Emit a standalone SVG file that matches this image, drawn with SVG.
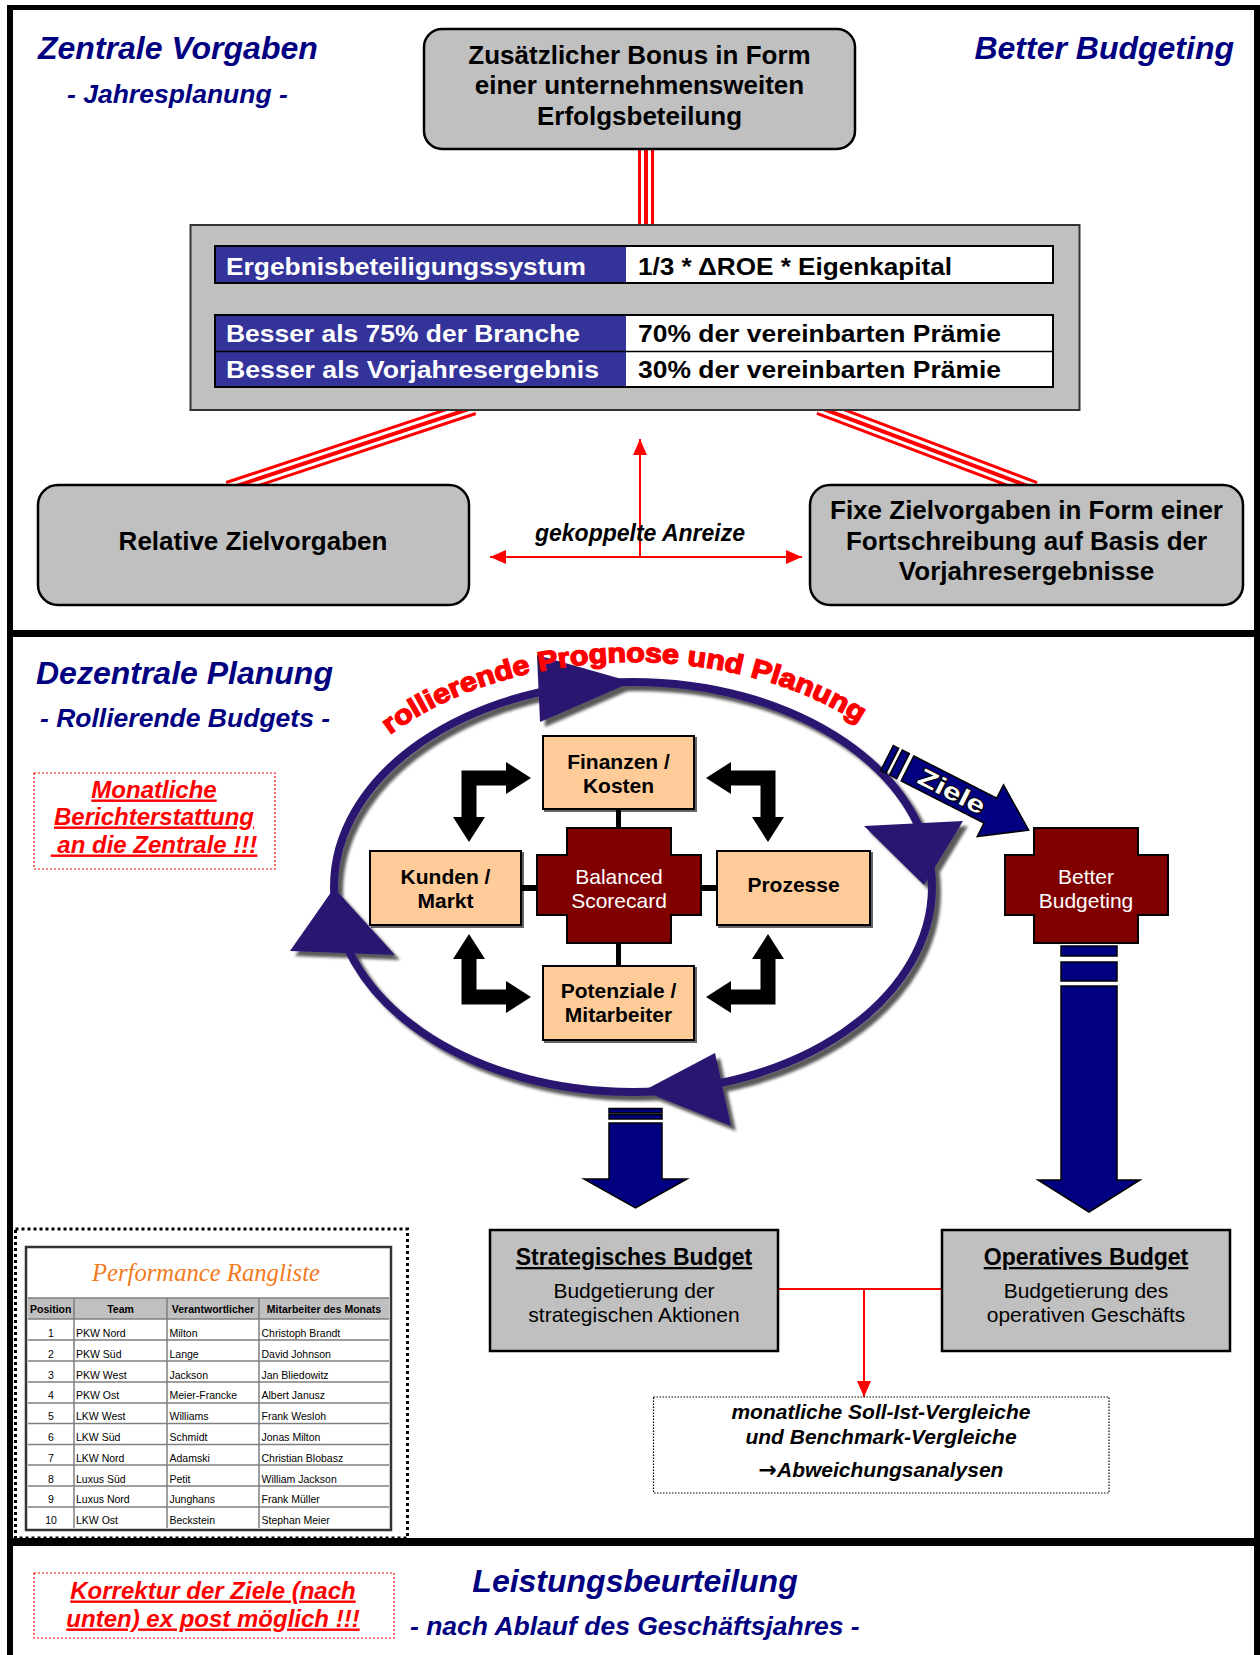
<svg xmlns="http://www.w3.org/2000/svg" width="1260" height="1655" viewBox="0 0 1260 1655">
<defs>
<style>
text{font-family:"Liberation Sans",Arial,Helvetica,sans-serif}
.title{font-size:32px;font-weight:bold;font-style:italic;fill:#000080}
.sub{font-size:26.5px;font-weight:bold;font-style:italic;fill:#000080}
.box{fill:#c0c0c0;stroke:#000;stroke-width:2.5}
.bt{font-size:26px;font-weight:bold;fill:#000;text-anchor:middle}
.tbw{font-size:24px;font-weight:bold;fill:#fff}
.tbk{font-size:24px;font-weight:bold;fill:#000}
.peach{fill:#ffcc99;stroke:#000;stroke-width:2}
.pt{font-size:21px;font-weight:bold;text-anchor:middle;fill:#000}
.cross{fill:#800000;stroke:#000;stroke-width:2}
.ct{font-size:21px;fill:#fff;text-anchor:middle}
.navy{fill:#000080;stroke:#000;stroke-width:1.5}
.note{font-size:24px;font-weight:bold;font-style:italic;fill:#ff0000;text-anchor:middle;text-decoration:underline}
.redbox{fill:none;stroke:#ff0000;stroke-width:1.2;stroke-dasharray:2 2}
.r3a{stroke:#ff0000;stroke-width:16;fill:none}
.r3b{stroke:#fff;stroke-width:10;fill:none}
.r3c{stroke:#ff0000;stroke-width:4;fill:none}
.redl{stroke:#ff0000;stroke-width:2;fill:none}
.ringc{fill:#2b176f}
.bk{fill:#000}
.th{font-size:10.5px;font-weight:bold;fill:#000}
.td{font-size:10.5px;fill:#000}
.grid{stroke:#7f7f7f;stroke-width:1.5}
.bgt{font-size:23px;font-weight:bold;fill:#000;text-anchor:middle;text-decoration:underline}
.bgs{font-size:21px;fill:#000;text-anchor:middle}
.it{font-size:21px;font-weight:bold;font-style:italic;fill:#000;text-anchor:middle}
.script{font-family:"Liberation Serif","DejaVu Serif",serif;font-style:italic;font-size:26px;fill:#f47a20;text-anchor:middle}
.arr{font-family:"DejaVu Sans",sans-serif;font-style:normal;font-weight:bold;font-size:22px}
</style>
<marker id="ah" markerUnits="userSpaceOnUse" markerWidth="16" markerHeight="14" refX="16" refY="7" orient="auto-start-reverse"><path d="M0,0 L16,7 L0,14 Z" fill="#ff0000"/></marker>
<filter id="sh" x="-10%" y="-10%" width="130%" height="130%"><feDropShadow dx="5" dy="5" stdDeviation="1.5" flood-color="#000" flood-opacity="0.65"/></filter>
<filter id="bs" x="-5%" y="-5%" width="115%" height="115%"><feDropShadow dx="2" dy="2" stdDeviation="0.6" flood-color="#000" flood-opacity="0.6"/></filter>
<path id="arc" d="M 390 734.6 A 332 228 0 0 1 870 730.3"/>
</defs>

<rect x="0" y="0" width="1260" height="1655" fill="#fff"/>

<!-- panel frames -->
<g id="frames" fill="#000">
<rect x="7" y="5" width="1253" height="5"/>
<rect x="7" y="5" width="6" height="1650"/>
<rect x="1254" y="5" width="6" height="1650"/>
<rect x="7" y="630" width="1253" height="7"/>
<rect x="7" y="1538" width="1253" height="8"/>
</g>

<!-- section titles -->
<g id="titles">
<text class="title" x="38" y="59">Zentrale Vorgaben</text>
<text class="sub" x="67" y="103">- Jahresplanung -</text>
<text class="title" x="1234" y="59" text-anchor="end">Better Budgeting</text>
<text class="title" x="36" y="684">Dezentrale Planung</text>
<text class="sub" x="40" y="727">- Rollierende Budgets -</text>
<text class="title" x="635" y="1592" text-anchor="middle">Leistungsbeurteilung</text>
<text class="sub" x="410" y="1635">- nach Ablauf des Geschäftsjahres -</text>
</g>

<!-- connectors -->
<g id="connectors">
<line class="r3a" x1="646" y1="145" x2="646" y2="229"/>
<line class="r3b" x1="646" y1="145" x2="646" y2="229"/>
<line class="r3c" x1="646" y1="145" x2="646" y2="229"/>
<line class="r3a" x1="473.8" y1="407.3" x2="228.2" y2="488.7"/>
<line class="r3b" x1="473.8" y1="407.3" x2="228.2" y2="488.7"/>
<line class="r3c" x1="473.8" y1="407.3" x2="228.2" y2="488.7"/>
<line class="r3a" x1="819.2" y1="407.3" x2="1034.8" y2="488.7"/>
<line class="r3b" x1="819.2" y1="407.3" x2="1034.8" y2="488.7"/>
<line class="r3c" x1="819.2" y1="407.3" x2="1034.8" y2="488.7"/>
<line class="redl" x1="490" y1="557" x2="802" y2="557" marker-start="url(#ah)" marker-end="url(#ah)"/>
<line class="redl" x1="640" y1="557" x2="640" y2="439" marker-end="url(#ah)"/>
<line class="redl" x1="778" y1="1289" x2="942" y2="1289"/>
<line class="redl" x1="864" y1="1289" x2="864" y2="1397" marker-end="url(#ah)"/>
<!-- BSC connectors -->
<line x1="618.5" y1="809" x2="618.5" y2="828" stroke="#000" stroke-width="5"/>
<line x1="618.5" y1="943" x2="618.5" y2="966" stroke="#000" stroke-width="5"/>
<line x1="521" y1="888" x2="537" y2="888" stroke="#000" stroke-width="6"/>
<line x1="701" y1="888" x2="717" y2="888" stroke="#000" stroke-width="6"/>
<!-- black L double arrows -->
<path class="bk" d="M461.5,770.5 H506 V762 L531,778 L506,794 V785.5 H476.5 V817 H485 L469,842 L453,817 H461.5 Z"/>
<path class="bk" d="M775.5,770.5 H731 V762 L706,778 L731,794 V785.5 H760.5 V817 H752 L768,842 L784,817 H775.5 Z"/>
<path class="bk" d="M461.5,1004.5 H506 V1013 L531,997 L506,981 V989.5 H476.5 V959 H485 L469,934 L453,959 H461.5 Z"/>
<path class="bk" d="M775.5,1004.5 H731 V1013 L706,997 L731,981 V989.5 H760.5 V959 H752 L768,934 L784,959 H775.5 Z"/>
</g>

<!-- Top box -->
<g id="bonus">
<rect class="box" x="424" y="29" width="431" height="120" rx="18"/>
<text class="bt" x="639.5" y="64">Zusätzlicher Bonus in Form</text>
<text class="bt" x="639.5" y="94">einer unternehmensweiten</text>
<text class="bt" x="639.5" y="125">Erfolgsbeteilung</text>
</g>

<!-- Table box -->
<g id="ergebnis">
<rect x="190.5" y="225" width="889" height="185" fill="#c0c0c0" stroke="#333" stroke-width="2"/>
<rect x="215" y="246" width="411" height="37" fill="#333399"/>
<rect x="626" y="246" width="427" height="37" fill="#fff"/>
<rect x="215" y="246" width="838" height="37" fill="none" stroke="#000" stroke-width="2"/>
<rect x="215" y="315" width="411" height="72" fill="#333399"/>
<rect x="626" y="315" width="427" height="72" fill="#fff"/>
<rect x="215" y="315" width="838" height="72" fill="none" stroke="#000" stroke-width="2"/>
<line x1="215" y1="351.5" x2="1053" y2="351.5" stroke="#000" stroke-width="1.5"/>
<text class="tbw" x="226" y="275" textLength="360" lengthAdjust="spacingAndGlyphs">Ergebnisbeteiligungssystum</text>
<text class="tbk" x="638" y="275" textLength="314" lengthAdjust="spacingAndGlyphs">1/3 * ΔROE * Eigenkapital</text>
<text class="tbw" x="226" y="342" textLength="354" lengthAdjust="spacingAndGlyphs">Besser als 75% der Branche</text>
<text class="tbk" x="638" y="342" textLength="363" lengthAdjust="spacingAndGlyphs">70% der vereinbarten Prämie</text>
<text class="tbw" x="226" y="378" textLength="373" lengthAdjust="spacingAndGlyphs">Besser als Vorjahresergebnis</text>
<text class="tbk" x="638" y="378" textLength="363" lengthAdjust="spacingAndGlyphs">30% der vereinbarten Prämie</text>
</g>

<g id="relative">
<rect class="box" x="38" y="485" width="431" height="120" rx="20"/>
<text class="bt" x="253" y="550">Relative Zielvorgaben</text>
</g>

<g id="fixe">
<rect class="box" x="810" y="485" width="433" height="120" rx="20"/>
<text class="bt" x="1026.5" y="519">Fixe Zielvorgaben in Form einer</text>
<text class="bt" x="1026.5" y="550">Fortschreibung auf Basis der</text>
<text class="bt" x="1026.5" y="580">Vorjahresergebnisse</text>
</g>

<g id="anreize">
<text x="640" y="541" font-size="23" font-weight="bold" font-style="italic" text-anchor="middle" fill="#000">gekoppelte Anreize</text>
</g>

<!-- Section 2 -->
<g id="monatliche">
<rect class="redbox" x="34" y="773" width="241" height="96"/>
<text class="note" x="154" y="797.5">Monatliche</text>
<text class="note" x="154" y="824.5">Berichterstattung</text>
<text class="note" x="154" y="852.5" xml:space="preserve"> an die Zentrale !!!</text>
</g>

<g id="ring" filter="url(#sh)">
<ellipse cx="633" cy="887" rx="299" ry="205" fill="none" stroke="#2b176f" stroke-width="8"/>
<polygon class="ringc" points="537,655 540,722 632,682"/>
<polygon class="ringc" points="864,826 963,821 924,885"/>
<polygon class="ringc" points="715,1053 731,1126 643,1091"/>
<polygon class="ringc" points="334,888 290,951 395,955"/>
</g>

<g id="rollierende">
<text font-size="27" font-weight="bold" fill="#ff0000" stroke="#ff0000" stroke-width="1.4"><textPath href="#arc" textLength="495" lengthAdjust="spacingAndGlyphs">rollierende Prognose und Planung</textPath></text>
</g>

<g id="finanzen">
<rect class="peach" x="543" y="736" width="151" height="73" filter="url(#bs)"/>
<text class="pt" x="618.5" y="768.5">Finanzen /</text>
<text class="pt" x="618.5" y="792.5">Kosten</text>
</g>
<g id="kunden">
<rect class="peach" x="370" y="851" width="151" height="74" filter="url(#bs)"/>
<text class="pt" x="445.5" y="883.5">Kunden /</text>
<text class="pt" x="445.5" y="907.5">Markt</text>
</g>
<g id="prozesse">
<rect class="peach" x="717" y="851" width="153" height="74" filter="url(#bs)"/>
<text class="pt" x="793.5" y="891.5">Prozesse</text>
</g>
<g id="potenziale">
<rect class="peach" x="543" y="966" width="151" height="74" filter="url(#bs)"/>
<text class="pt" x="618.5" y="997.5">Potenziale /</text>
<text class="pt" x="618.5" y="1022">Mitarbeiter</text>
</g>
<g id="bsc">
<path class="cross" d="M567,828 H671 V855 H701 V915 H671 V943 H567 V915 H537 V855 H567 Z"/>
<text class="ct" x="619" y="883.5">Balanced</text>
<text class="ct" x="619" y="907.5">Scorecard</text>
</g>

<g id="ziele" transform="translate(887,758) rotate(27)">
<rect class="navy" x="0" y="-14" width="6" height="28"/>
<rect class="navy" x="10" y="-14" width="8" height="28"/>
<path class="navy" d="M23,-14 H116 V-29 L159,0 L116,29 V14 H23 Z"/>
<text x="73" y="8.5" font-size="24" font-weight="bold" text-anchor="middle" fill="#fff" stroke="#000" stroke-width="2" paint-order="stroke" textLength="72" lengthAdjust="spacingAndGlyphs">Ziele</text>
</g>

<g id="betterbudgeting">
<path class="cross" d="M1034,828 H1138 V855 H1168 V915 H1138 V943 H1034 V915 H1005 V855 H1034 Z"/>
<text class="ct" x="1086" y="883.5">Better</text>
<text class="ct" x="1086" y="907.5">Budgeting</text>
</g>

<g id="arrow-right">
<rect class="navy" x="1061" y="946" width="56" height="10"/>
<rect class="navy" x="1061" y="962" width="56" height="19"/>
<path class="navy" d="M1061,986 H1117 V1180 H1140 L1089,1212 L1038,1180 H1061 Z"/>
</g>

<g id="arrow-left">
<rect class="navy" x="609" y="1108.5" width="53" height="4.5"/>
<rect class="navy" x="609" y="1114.5" width="53" height="4.5"/>
<path class="navy" d="M609,1123 H662 V1179 H687 L635.5,1208 L584,1179 H609 Z"/>
</g>

<g id="strategisch">
<rect class="box" x="490" y="1230" width="288" height="121"/>
<text class="bgt" x="634" y="1265">Strategisches Budget</text>
<text class="bgs" x="634" y="1297.5">Budgetierung der</text>
<text class="bgs" x="634" y="1321.5">strategischen Aktionen</text>
</g>

<g id="operativ">
<rect class="box" x="942" y="1230" width="288" height="121"/>
<text class="bgt" x="1086" y="1265">Operatives Budget</text>
<text class="bgs" x="1086" y="1297.5">Budgetierung des</text>
<text class="bgs" x="1086" y="1321.5">operativen Geschäfts</text>
</g>

<g id="vergleiche">
<rect x="653.5" y="1397" width="455.5" height="96" fill="none" stroke="#000" stroke-width="1.2" stroke-dasharray="1.5 1.5"/>
<text class="it" x="881" y="1418.5">monatliche Soll-Ist-Vergleiche</text>
<text class="it" x="881" y="1443.5">und Benchmark-Vergleiche</text>
<text class="it" x="881" y="1476.5"><tspan class="arr">→</tspan>Abweichungsanalysen</text>
</g>

<g id="rangliste">
<rect x="15.5" y="1229" width="392" height="309" fill="none" stroke="#000" stroke-width="3" stroke-dasharray="3 3"/>
<rect x="26" y="1247" width="365" height="283" fill="#fff" stroke="#333" stroke-width="2.5"/>
<rect x="28" y="1298" width="361" height="21" fill="#c0c0c0"/>
<text class="script" x="206" y="1281" textLength="228" lengthAdjust="spacingAndGlyphs">Performance Rangliste</text>
<g class="grid">
<line x1="28" y1="1298" x2="389" y2="1298"/>
<line x1="28" y1="1319" x2="389" y2="1319"/>
<line x1="28" y1="1340" x2="389" y2="1340"/>
<line x1="28" y1="1361" x2="389" y2="1361"/>
<line x1="28" y1="1382" x2="389" y2="1382"/>
<line x1="28" y1="1403" x2="389" y2="1403"/>
<line x1="28" y1="1423.5" x2="389" y2="1423.5"/>
<line x1="28" y1="1444.5" x2="389" y2="1444.5"/>
<line x1="28" y1="1465" x2="389" y2="1465"/>
<line x1="28" y1="1486" x2="389" y2="1486"/>
<line x1="28" y1="1507" x2="389" y2="1507"/>
<line x1="74" y1="1298" x2="74" y2="1528"/>
<line x1="167" y1="1298" x2="167" y2="1528"/>
<line x1="259" y1="1298" x2="259" y2="1528"/>
</g>
<text class="th" x="30" y="1312.5">Position</text>
<text class="th" x="120.5" y="1312.5" text-anchor="middle">Team</text>
<text class="th" x="213" y="1312.5" text-anchor="middle">Verantwortlicher</text>
<text class="th" x="324" y="1312.5" text-anchor="middle">Mitarbeiter des Monats</text>
<g class="td">
<text x="51" y="1337" text-anchor="middle">1</text><text x="76" y="1337">PKW Nord</text><text x="169.5" y="1337">Milton</text><text x="261.5" y="1337">Christoph Brandt</text>
<text x="51" y="1357.8" text-anchor="middle">2</text><text x="76" y="1357.8">PKW Süd</text><text x="169.5" y="1357.8">Lange</text><text x="261.5" y="1357.8">David Johnson</text>
<text x="51" y="1378.6" text-anchor="middle">3</text><text x="76" y="1378.6">PKW West</text><text x="169.5" y="1378.6">Jackson</text><text x="261.5" y="1378.6">Jan Bliedowitz</text>
<text x="51" y="1399.4" text-anchor="middle">4</text><text x="76" y="1399.4">PKW Ost</text><text x="169.5" y="1399.4">Meier-Francke</text><text x="261.5" y="1399.4">Albert Janusz</text>
<text x="51" y="1420.2" text-anchor="middle">5</text><text x="76" y="1420.2">LKW West</text><text x="169.5" y="1420.2">Williams</text><text x="261.5" y="1420.2">Frank Wesloh</text>
<text x="51" y="1441" text-anchor="middle">6</text><text x="76" y="1441">LKW Süd</text><text x="169.5" y="1441">Schmidt</text><text x="261.5" y="1441">Jonas Milton</text>
<text x="51" y="1461.8" text-anchor="middle">7</text><text x="76" y="1461.8">LKW Nord</text><text x="169.5" y="1461.8">Adamski</text><text x="261.5" y="1461.8">Christian Blobasz</text>
<text x="51" y="1482.6" text-anchor="middle">8</text><text x="76" y="1482.6">Luxus Süd</text><text x="169.5" y="1482.6">Petit</text><text x="261.5" y="1482.6">William Jackson</text>
<text x="51" y="1503.4" text-anchor="middle">9</text><text x="76" y="1503.4">Luxus Nord</text><text x="169.5" y="1503.4">Junghans</text><text x="261.5" y="1503.4">Frank Müller</text>
<text x="51" y="1524.2" text-anchor="middle">10</text><text x="76" y="1524.2">LKW Ost</text><text x="169.5" y="1524.2">Beckstein</text><text x="261.5" y="1524.2">Stephan Meier</text>
</g>
</g>

<!-- Section 3 -->
<g id="korrektur">
<rect class="redbox" x="34" y="1573" width="360" height="65"/>
<text class="note" x="213" y="1598.5">Korrektur der Ziele (nach</text>
<text class="note" x="213" y="1626.5">unten) ex post möglich !!!</text>
</g>
</svg>
